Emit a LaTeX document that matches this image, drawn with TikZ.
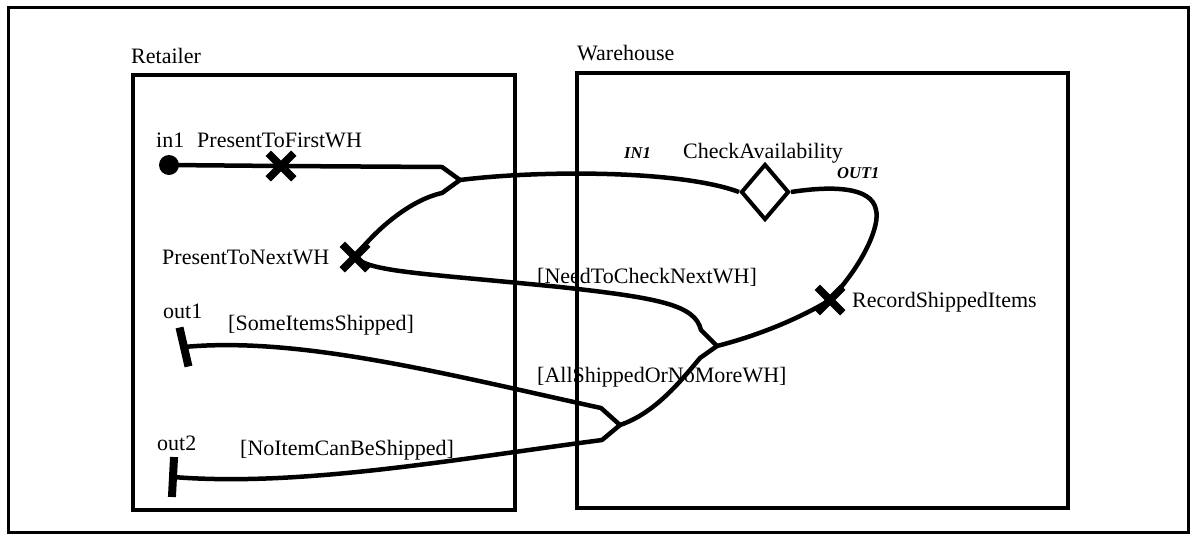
\documentclass[tikz,border=0pt]{standalone}
\usepackage{fontspec}
\setmainfont{Liberation Serif}
\usetikzlibrary{shapes.geometric,shapes.misc}
\begin{document}
\begin{tikzpicture}[x=1pt,y=-1pt,
  lbl/.style={anchor=base west,inner sep=0pt,font=\fontsize{22}{24}\selectfont},
  port/.style={anchor=base west,inner sep=0pt,font=\fontsize{16.5}{18}\selectfont\bfseries\itshape},
  box/.style={draw,line width=4pt},
  conn/.style={draw,line width=4.5pt,line join=round},
  xmark/.style={cross out,draw,line width=7.5pt,minimum size=18pt,inner sep=0pt},
  bar/.style={fill=black,rectangle,minimum width=8pt,minimum height=40pt,inner sep=0pt}]
\useasboundingbox (0,0) rectangle (1190,536);
\draw[line width=3pt] (8,7) rectangle (1188,532);
% containers
\draw[box] (133,75) rectangle (515,510);
\draw[box] (577,73) rectangle (1068,508);
\node[lbl] (retailer) at (131,63) {Retailer};
\node[lbl] (warehouse) at (577,60) {Warehouse};
% elements
\node[circle,fill=black,minimum size=20pt,inner sep=0pt] (in1) at (169,165) {};
\node[xmark] (x1) at (281,166) {};
\node[xmark] (x2) at (355,257) {};
\node[xmark] (x3) at (830,300) {};
\node[diamond,draw,line width=4pt,minimum width=48pt,minimum height=56pt,inner sep=0pt,fill=white] (chk) at (765,192) {};
\node[bar,rotate=13] (out1) at (184,347) {};
\node[bar,rotate=-3] (out2) at (173,477) {};
\coordinate (m1) at (460,180);
\coordinate (m2) at (717,346);
\coordinate (m3) at (620,425);
% connectors
\draw[conn] (in1.center) -- (x1.center) -- (442,167) -- (m1);
\draw[conn] (m1) .. controls (540,170) and (680,170) .. (chk.west);
\draw[conn] (x2.center) .. controls (375,230) and (410,200) .. (442,193) -- (m1);
\draw[conn] (x2.center) .. controls (370,272) and (420,273) .. (560,287) .. controls (660,298) and (695,305) .. (701,330) -- (m2);
\draw[conn] (m2) .. controls (760,335) and (800,318) .. (x3.center);
\draw[conn] (x3.center) .. controls (865,262) and (880,225) .. (876,210) .. controls (872,186) and (830,186) .. (chk.east);
\draw[conn] (m2) -- (700,358) .. controls (680,382) and (655,413) .. (m3);
\draw[conn] (m3) -- (601,408) .. controls (450,375) and (300,336) .. (out1.center);
\draw[conn] (m3) -- (602,440) .. controls (450,460) and (300,487) .. (out2.center);
% labels
\node[lbl] (lin1) at (156,147) {in1};
\node[lbl] (lptf) at (197,147) {PresentToFirstWH};
\node[lbl] (lptn) at (162,264) {PresentToNextWH};
\node[lbl] (lout1) at (163,318) {out1};
\node[lbl] (lsome) at (228,330) {[SomeItemsShipped]};
\node[lbl] (lout2) at (157,450) {out2};
\node[lbl] (lnone) at (240,455) {[NoItemCanBeShipped]};
\node[lbl] (lneed) at (537,283) {[NeedToCheckNextWH]};
\node[lbl] (lall) at (537,382) {[AllShippedOrNoMoreWH]};
\node[lbl] (lchk) at (683,158) {CheckAvailability};
\node[port] (lin) at (624,158) {IN1};
\node[port] (lout) at (837,178) {OUT1};
\node[lbl] (lrec) at (852,307) {RecordShippedItems};
\end{tikzpicture}
\end{document}
